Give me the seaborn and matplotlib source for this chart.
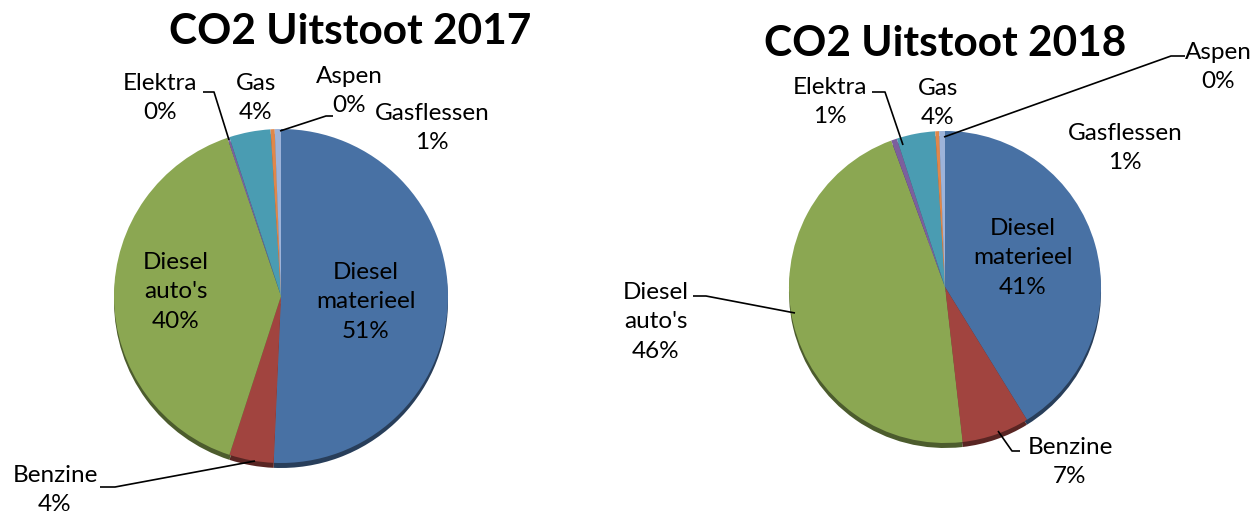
import matplotlib
matplotlib.use("Agg")
import matplotlib.pyplot as plt
import seaborn as sns

# Data
categories = ["Diesel materieel", "Benzine", "Diesel auto's", "Elektra", "Gas", "Aspen", "Gasflessen"]
values_2017 = [50.7, 4.3, 39.8, 0.2, 4.0, 0.4, 0.6]
values_2018 = [41.2, 7.0, 46.2, 0.6, 4.0, 0.4, 0.6]
titles = ["CO2 Uitstoot 2017", "CO2 Uitstoot 2018"]

colors = ["#4871A4", "#A1443F", "#8BA752", "#7C5F9D", "#4A9CB2", "#E0874A", "#9DB3D9"]

sns.set_theme(style="white")
plt.rcParams["font.family"] = ["Lato", "DejaVu Sans"]

W, H = 1256, 515
fig = plt.figure(figsize=(W / 100, H / 100), dpi=100)
ax = fig.add_axes([0, 0, 1, 1])
ax.set_xlim(0, W)
ax.set_ylim(0, H)
ax.axis("off")


def py(y):
    # pixel row -> data y
    return H - y


def darker(c, f=0.55):
    r, g, b = matplotlib.colors.to_rgb(c)
    return (r * f, g * f, b * f)


# layout per chart: pie centre/radius, title position, label positions and leader lines
layouts = [
    dict(
        center=(281, 296), radius=167, title=(350, 32),
        labels={
            "Diesel materieel": ((366, 302), None),
            "Diesel auto's": ((176, 292), None),
            "Benzine": ((55, 490), [(100, 487), (115, 487), (255, 461)]),
            "Elektra": ((160, 98), [(203, 92), (214, 92), (229, 140)]),
            "Gas": ((256, 98), None),
            "Aspen": ((349, 91), [(333, 116), (326, 116), (280, 131)]),
            "Gasflessen": ((432, 128), None),
        },
    ),
    dict(
        center=(945, 287), radius=156, title=(945, 44),
        labels={
            "Diesel materieel": ((1023, 258), None),
            "Diesel auto's": ((656, 322), [(693, 296), (706, 296), (795, 313)]),
            "Benzine": ((1070, 462), [(1020, 451), (1012, 451), (998, 431)]),
            "Elektra": ((830, 102), [(872, 92), (885, 92), (903, 145)]),
            "Gas": ((938, 103), None),
            "Aspen": ((1218, 67), [(1185, 56), (1171, 56), (944, 137)]),
            "Gasflessen": ((1125, 148), None),
        },
    ),
]

for values, title, lay in zip([values_2017, values_2018], titles, layouts):
    cx, cy = lay["center"]
    r = lay["radius"]
    # 3D rim: darker copy shifted down
    ax.pie(values, colors=[darker(c) for c in colors], startangle=90, counterclock=False,
           center=(cx, py(cy) - 5), radius=r, frame=True,
           wedgeprops=dict(linewidth=0))
    ax.pie(values, colors=colors, startangle=90, counterclock=False,
           center=(cx, py(cy)), radius=r, frame=True,
           wedgeprops=dict(linewidth=0))

    tx, ty = lay["title"]
    ax.text(tx, py(ty), title, ha="center", va="center", fontsize=30.5,
            fontweight="bold", color="black")

    for name, v in zip(categories, values):
        (lx, ly), line = lay["labels"][name]
        txt = name.replace(" ", "\n") + f"\n{v:.0f}%"
        ax.text(lx, py(ly), txt, ha="center", va="center", fontsize=17.5,
                linespacing=1.5, color="black")
        if line:
            ax.plot([p[0] for p in line], [py(p[1]) for p in line],
                    color="black", lw=1.2, solid_capstyle="butt")

ax.set_xlim(0, W)
ax.set_ylim(0, H)
ax.set_aspect("equal")
fig.savefig("out.png", dpi=100)
